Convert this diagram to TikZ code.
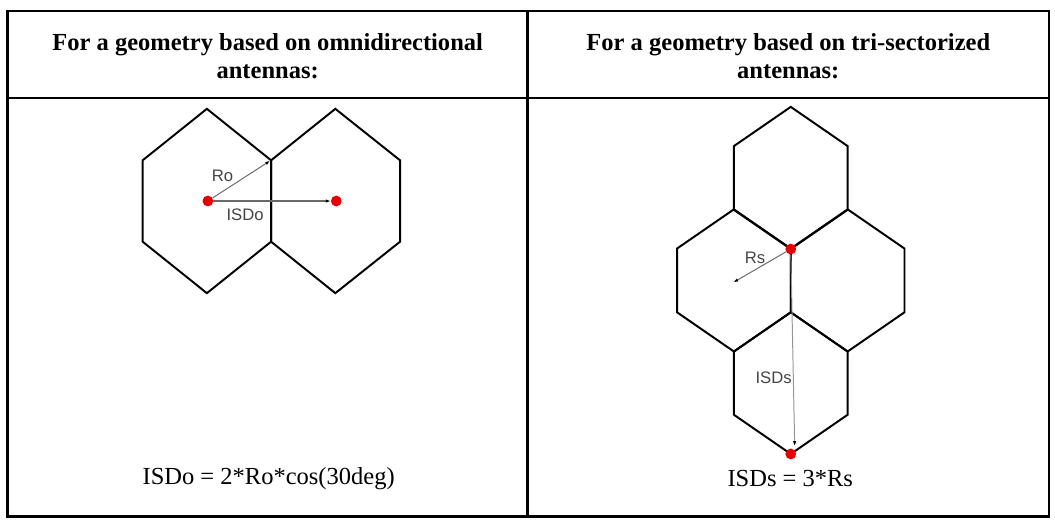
\documentclass[tikz,border=0pt]{standalone}
\usepackage{fontspec}
\setmainfont{Liberation Serif}
\newfontfamily\labelfont{Liberation Sans}
\usepackage{tikz}
\usetikzlibrary{arrows.meta, positioning}
\definecolor{dotred}{RGB}{232,0,0}
\definecolor{labelgray}{RGB}{68,68,68}
\definecolor{arrowgray}{RGB}{105,105,105}
\tikzset{
  frame/.style={line width=2.6pt, black},
  cell/.style={line width=2pt, black, line join=miter},
  dot/.style={circle, fill=dotred, inner sep=0pt, minimum size=11pt},
  pointer/.style={-{Latex[length=5pt, width=3.5pt, black]}, draw=arrowgray, line width=1pt},
  tag/.style={text=labelgray, font=\labelfont\fontsize{17}{19}\selectfont, inner sep=0pt},
  head/.style={font=\bfseries\fontsize{25}{29}\selectfont, align=center},
  formula/.style={font=\fontsize{25}{29}\selectfont}
}

\begin{document}
\begin{tikzpicture}[x=1pt, y=-1pt]
        \useasboundingbox (0,0) rectangle (1076,533.4);

        % Table
        \draw[frame] (7.5,11) rectangle (1070,527);
        \draw[frame] (7.5,100) -- (1070,100);
        \draw[frame] (538,11) -- (538,527);

        % Headings
        \node[head] (omnihead) at (273,57.5) {For a geometry based on omnidirectional\\antennas:};
        \node[head] (trihead) at (804,57.5) {For a geometry based on tri-sectorized\\antennas:};

        % Omnidirectional cells
        \draw[cell] (211,111) -- (276.5,163.5) -- (276.5,246.5) -- (211,299) -- (145.5,246.5) -- (145.5,163.5) -- cycle;
        \draw[cell] (342,111) -- (408,163.5) -- (408,246.5) -- (342,299) -- (276.5,246.5) -- (276.5,163.5) -- cycle;

        % Tri-sectorized cells
        \draw[cell] (806.5,109) -- (864.5,149) -- (864.5,214) -- (806.5,254) -- (748.5,214) -- (748.5,149) -- cycle;
        \draw[cell] (748.5,213.5) -- (806.5,253.5) -- (806.5,318.5) -- (748.5,358.5) -- (690.5,318.5) -- (690.5,253.5) -- cycle;
        \draw[cell] (864.5,213.5) -- (922.5,253.5) -- (922.5,318.5) -- (864.5,358.5) -- (806.5,318.5) -- (806.5,253.5) -- cycle;
        \draw[cell] (806.5,318.5) -- (864.5,358.5) -- (864.5,423) -- (806.5,463) -- (748.5,423) -- (748.5,358.5) -- cycle;

        % Nodes
        \node[dot] (odot1) at (212,205) {};
        \node[dot] (odot2) at (343,205) {};
        \node[dot] (sdot1) at (806.5,254) {};
        \node[dot] (sdot2) at (806.5,463) {};
        \coordinate (roend) at (275.5,164);
        \coordinate (rsend) at (748,288);
        \coordinate (isdsend) at (810.5,455);

        % Distances
        \draw[pointer] (odot1) -- (roend);
        \draw[pointer, line width=1.4pt] (odot1) -- (odot2);
        \draw[pointer] (sdot1) -- (rsend);
        \draw[pointer, draw=arrowgray!70] (sdot1) -- (isdsend);

        % Labels
        \node[tag] (rolabel) at (227,179) {Ro};
        \node[tag] (isdolabel) at (250,219) {ISDo};
        \node[tag] (rslabel) at (770,263) {Rs};
        \node[tag] (isdslabel) at (789,385) {ISDs};

        % Formulas
        \node[formula] (omniformula) at (274,488) {ISDo = 2*Ro*cos(30deg)};
        \node[formula] (triformula) at (806,488) {ISDs = 3*Rs};
    \end{tikzpicture}
\end{document}
